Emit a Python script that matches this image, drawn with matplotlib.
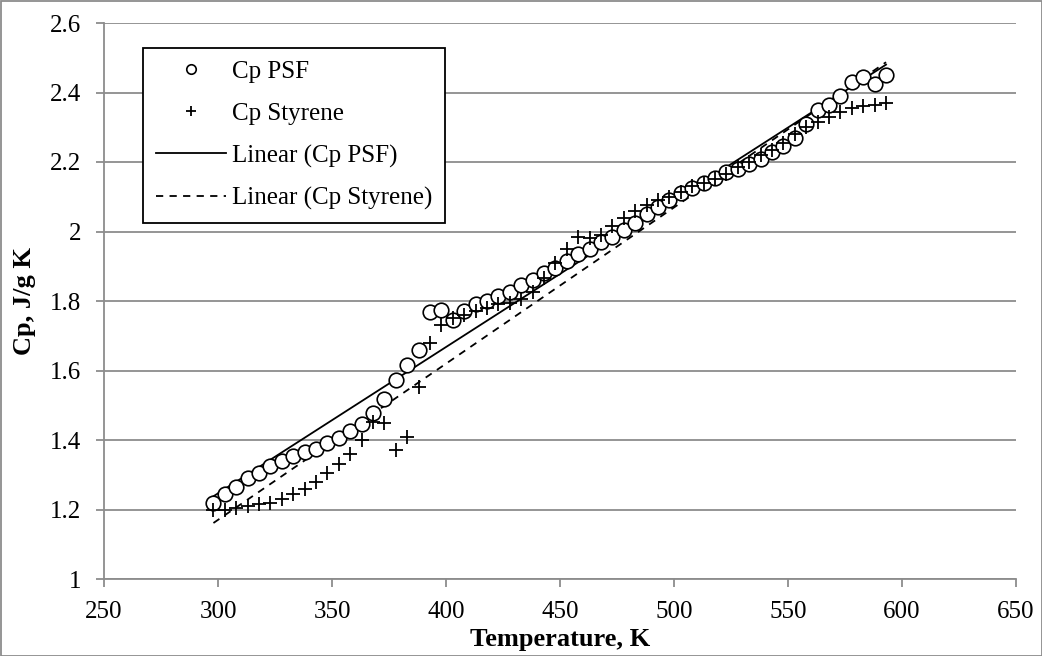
import numpy as np
import matplotlib
matplotlib.use("Agg")
import matplotlib.pyplot as plt
from matplotlib.patches import Rectangle

temperature = list(range(298, 594, 5))

cp_psf = [1.22, 1.245, 1.265, 1.29, 1.305, 1.325, 1.34, 1.355, 1.365, 1.375,
          1.39, 1.405, 1.425, 1.447, 1.478, 1.517, 1.573, 1.615, 1.658, 1.767,
          1.773, 1.745, 1.77, 1.79, 1.80, 1.815, 1.825, 1.845, 1.86, 1.88,
          1.895, 1.915, 1.935, 1.95, 1.97, 1.985, 2.005, 2.025, 2.05, 2.07,
          2.09, 2.11, 2.125, 2.14, 2.155, 2.17, 2.18, 2.195, 2.21, 2.23,
          2.245, 2.27, 2.31, 2.35, 2.365, 2.39, 2.43, 2.445, 2.425, 2.45]

cp_styrene = [1.20, 1.20, 1.205, 1.21, 1.215, 1.22, 1.23, 1.245, 1.26, 1.28,
              1.305, 1.33, 1.36, 1.40, 1.452, 1.449, 1.372, 1.408, 1.552, 1.678,
              1.73, 1.75, 1.76, 1.77, 1.78, 1.79, 1.795, 1.805, 1.825, 1.865,
              1.91, 1.95, 1.985, 1.98, 1.99, 2.015, 2.04, 2.06, 2.075, 2.09,
              2.10, 2.115, 2.13, 2.14, 2.15, 2.165, 2.185, 2.20, 2.22, 2.235,
              2.255, 2.28, 2.30, 2.315, 2.33, 2.345, 2.355, 2.36, 2.365, 2.37]

labels = ["Cp PSF", "Cp Styrene", "Linear (Cp PSF)", "Linear (Cp Styrene)"]

plt.rcParams['font.family'] = ['Liberation Serif', 'DejaVu Serif']

T = np.array(temperature, dtype=float)
p1 = np.polyfit(T, cp_psf, 1)
p2 = np.polyfit(T, cp_styrene, 1)

W, H = 1042, 656
fig = plt.figure(figsize=(W/100, H/100), dpi=100)
L, R, TOP, BOT = 104, 1016, 23, 579
ax = fig.add_axes([L/W, 1 - BOT/H, (R-L)/W, (BOT-TOP)/H])

ax.set_xlim(250, 650)
ax.set_ylim(1, 2.6)
ax.set_xticks(range(250, 651, 50))
ax.set_yticks([1, 1.2, 1.4, 1.6, 1.8, 2, 2.2, 2.4, 2.6])
ax.set_yticklabels(["1", "1.2", "1.4", "1.6", "1.8", "2", "2.2", "2.4", "2.6"])
ax.yaxis.grid(True, color="#8c8c8c", linewidth=1.3)
ax.set_axisbelow(True)
for s in ["top", "right"]:
    ax.spines[s].set_visible(False)
for s in ["left", "bottom"]:
    ax.spines[s].set_color("#8c8c8c")
    ax.spines[s].set_linewidth(1.3)
ax.tick_params(axis="both", labelsize=18, color="#8c8c8c", length=5.5, width=1.3,
               direction="out")
ax.tick_params(axis="x", pad=10)
ax.tick_params(axis="y", pad=11)

ax.plot(T, cp_psf, linestyle="none", marker="o", markersize=10.5, markerfacecolor="white",
        markeredgecolor="black", markeredgewidth=1.2, label=labels[0], zorder=3)
ax.plot(T, cp_styrene, linestyle="none", marker="+", markersize=10.5, color="black",
        markeredgewidth=1.3, label=labels[1], zorder=4)
ax.plot(T, np.polyval(p1, T), color="black", linewidth=1.3, label=labels[2], zorder=2)
ax.plot(T, np.polyval(p2, T), color="black", linewidth=1.3, linestyle=(0, (4, 3.5)),
        label=labels[3], zorder=2)

ax.set_xlabel("Temperature, K", fontsize=19, fontweight="bold", labelpad=4)
ax.set_ylabel("Cp, J/g K", fontsize=19, fontweight="bold", labelpad=10)

leg = ax.legend(loc="upper left", bbox_to_anchor=((143-L)/(R-L), 1 - (48-TOP)/(BOT-TOP)),
                fontsize=18, frameon=True, fancybox=False, edgecolor="black", framealpha=1,
                handlelength=2.8, borderpad=0.5, labelspacing=0.78, handletextpad=0.25,
                borderaxespad=0, markerscale=0.65)
leg.get_frame().set_linewidth(1.3)

fig.patches.append(Rectangle((0.5/W, 0.5/H), 1 - 1/W, 1 - 1/H, transform=fig.transFigure,
                             fill=False, edgecolor="#8c8c8c", linewidth=1.3))

fig.savefig("out.png", dpi=100)
